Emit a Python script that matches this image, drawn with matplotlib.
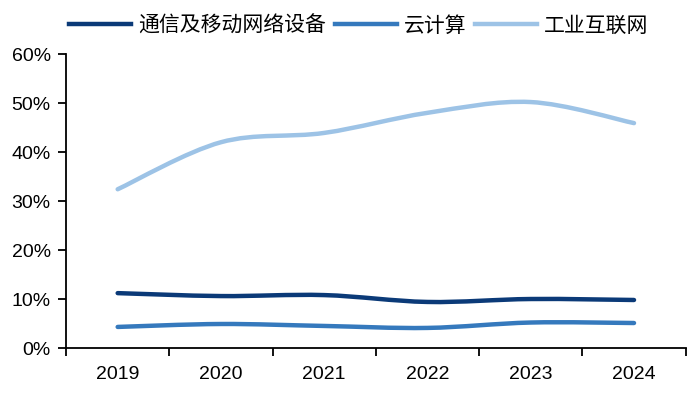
import matplotlib.pyplot as plt
import numpy as np
from matplotlib.path import Path
from matplotlib.patches import PathPatch
from matplotlib.lines import Line2D

years = ['2019', '2020', '2021', '2022', '2023', '2024']
telecom = [11.2, 10.6, 10.8, 9.4, 10.0, 9.8]
cloud = [4.3, 4.9, 4.5, 4.1, 5.2, 5.1]
industrial = [32.4, 42.0, 43.9, 48.0, 50.2, 45.9]

names = ['通信及移动网络设备', '云计算', '工业互联网']
colors = ['#0B3A78', '#3579BD', '#9DC3E6']

plt.rcParams['font.family'] = ['Liberation Sans', 'Noto Sans CJK SC', 'DejaVu Sans']


def smooth_path(xs, ys, t=1 / 6):
    # Catmull-Rom style bezier, like Excel smoothed lines
    xs = np.asarray(xs, float)
    ys = np.asarray(ys, float)
    n = len(xs)
    verts = [(xs[0], ys[0])]
    codes = [Path.MOVETO]
    for i in range(n - 1):
        p0 = i - 1 if i > 0 else i
        p3 = i + 2 if i + 2 < n else i + 1
        c1 = (xs[i] + (xs[i + 1] - xs[p0]) * t, ys[i] + (ys[i + 1] - ys[p0]) * t)
        c2 = (xs[i + 1] - (xs[p3] - xs[i]) * t, ys[i + 1] - (ys[p3] - ys[i]) * t)
        verts += [c1, c2, (xs[i + 1], ys[i + 1])]
        codes += [Path.CURVE4] * 3
    return Path(verts, codes)


fig = plt.figure(figsize=(6.9, 3.93), dpi=100)
ax = fig.add_axes([0.0957, 0.1145, 0.898, 0.748])

x = np.arange(len(years))
for vals, c in zip([telecom, cloud, industrial], colors):
    ax.add_patch(PathPatch(smooth_path(x, vals), fill=False, edgecolor=c, lw=3.2,
                           capstyle='round', joinstyle='round'))

ax.set_xlim(-0.5, len(years) - 0.5)
ax.set_ylim(0, 60)
ax.set_yticks(range(0, 61, 10))
ax.set_yticklabels([f'{v}%' for v in range(0, 61, 10)], fontsize=14)
ax.set_xticks(np.arange(-0.5, len(years), 1))
ax.set_xticklabels([])
ax.set_xticks(x, minor=True)
ax.set_xticklabels(years, minor=True, fontsize=14)
ax.tick_params(axis='x', which='minor', length=0, pad=13)
ax.tick_params(axis='x', which='major', length=6, width=1.3, direction='out')
ax.tick_params(axis='y', length=6, width=1.3, direction='out', pad=5)
for s in ['top', 'right']:
    ax.spines[s].set_visible(False)
ax.spines['left'].set_linewidth(1.3)
ax.spines['bottom'].set_linewidth(1.3)

handles = [Line2D([0], [0], color=c, lw=3.2) for c in colors]
fig.legend(handles, names, loc='center', bbox_to_anchor=(0.52, 0.935), ncol=3,
           frameon=False, handlelength=3.0, columnspacing=0.4,
           handletextpad=0.33, borderpad=0,
           prop={'family': ['Noto Sans CJK SC'], 'size': 15})

fig.savefig('out.png', dpi=100)
